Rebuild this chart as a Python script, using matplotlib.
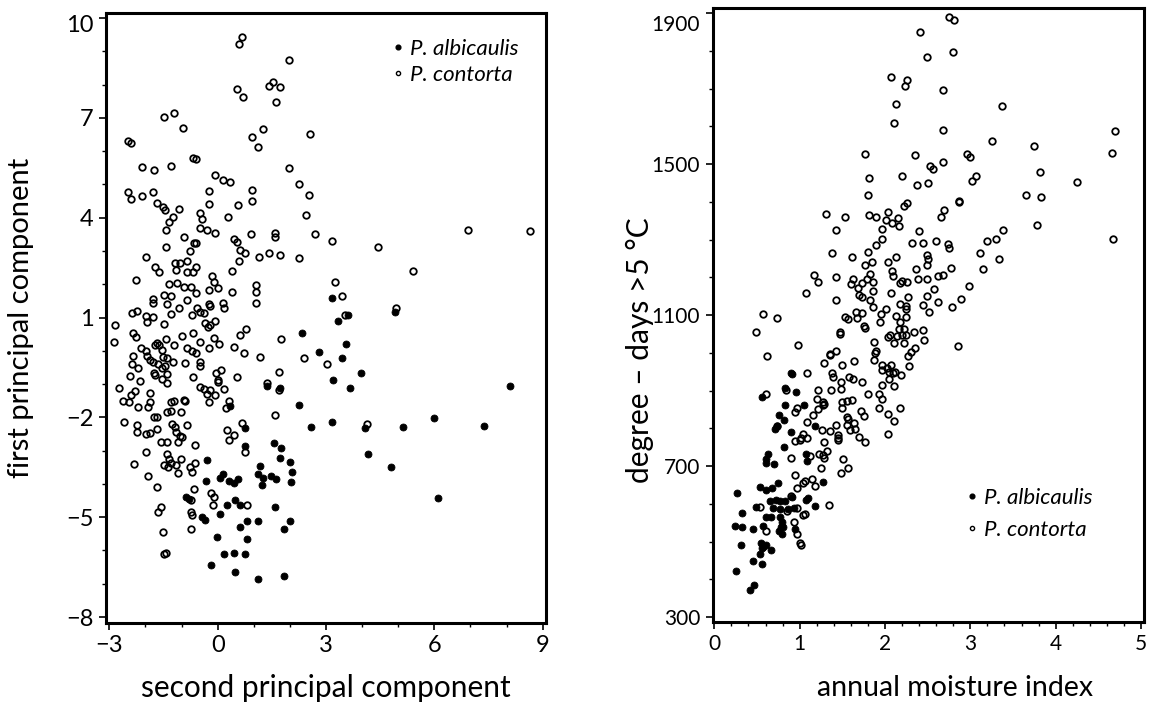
import numpy as np
import matplotlib
matplotlib.use("Agg")
import matplotlib.pyplot as plt
import matplotlib.transforms as mtransforms
from matplotlib.lines import Line2D
from matplotlib.ticker import MultipleLocator

plt.rcParams['font.family'] = ['Lato', 'DejaVu Sans']

# ---- left panel: principal components ----
pc2_contorta = [0.68, 0.58, 1.97, 1.53, 1.41, 1.73, 1.62, 0.55, 0.71, -1.49, -1.20, -0.95, -2.49, -2.41, 0.96, 1.26, 1.12, 2.56,
                -0.69, -0.61, -2.09, -1.76, -1.28, -0.08, 0.15, 0.33, 1.97, 2.26, 2.52, -2.48, -2.40, -2.09, -1.80, -1.68, -1.52,
                -1.46, -1.06, -0.25, -0.23, 0.56, 0.96, 0.96, -0.50, 2.45, -1.23, -1.35, -1.44, -0.43, -0.49, -0.29, -0.06, 0.29,
                -0.94, -0.66, -0.61, -0.77, -1.44, -1.99, -1.72, -1.63, -1.17, -1.03, -1.15, -0.84, -0.86, -0.68, -0.59, 0.44,
                0.54, 0.63, 0.77, 0.60, 0.40, 0.93, 1.60, 1.58, 1.14, 1.43, 1.73, 2.25, -0.15, -0.11, -2.26, -1.35, -1.12, -0.92,
                -0.75, -0.59, -0.25, 0.01, 0.40, 1.07, 1.07, 1.07, -1.49, -1.30, -1.80, -1.78, -0.84, -1.40, 0.15, 0.17, -0.23,
                -0.20, -1.07, -0.57, -0.49, -0.38, -1.30, -0.72, -2.38, -2.24, -1.97, -1.95, -1.78, -1.49, -0.34, -0.27, -0.20,
                -0.08, -2.84, -2.87, -2.33, -2.27, 0.79, 0.63, 1.76, -0.69, -1.00, -1.44, -1.67, -1.63, -1.72, -2.13, -1.99,
                -1.55, -1.21, -0.84, -0.72, -0.61, -0.48, -0.23, -0.09, 0.03, 0.44, 0.74, 1.16, 2.40, -2.35, -2.38, -2.21, -2.42,
                -2.16, -1.95, -1.86, -1.79, -1.64, -1.53, -1.51, -1.40, -1.24, -1.46, -1.40, -1.53, -1.40, -1.77, -1.72, -0.89,
                -0.49, -0.48, -0.68, -0.04, 0.08, 0.00, 0.54, 1.37, 1.69, 1.69, -2.74, -2.61, -2.44, -2.41, -2.30, -2.21, -1.93,
                -1.86, -1.86, -1.28, -1.21, -0.94, -0.89, -1.40, -1.28, -1.01, -0.48, -0.38, -0.29, -0.20, -0.08, -0.23, 0.17,
                0.31, 0.23, 0.01, -1.77, -2.59, -2.22, -2.22, -1.97, -1.88, -1.69, -1.69, -1.26, -1.19, -1.14, -1.05, -1.10,
                -0.98, -0.84, -1.58, -1.41, -0.62, -1.97, -2.32, -1.41, -1.35, -1.30, -1.49, -1.38, -1.15, -1.01, -1.09, -0.77,
                -0.72, -0.62, -1.93, -1.69, -0.66, -0.73, -0.18, -0.11, -0.13, -1.58, -1.64, -0.73, -0.72, -0.74, -1.50, -1.49,
                -1.42, 0.81, 0.26, 0.31, 0.46, 0.68, 0.77, 1.58, 2.70, 3.16, 4.43, 6.92, 8.66, 3.25, 5.42, 3.44, 4.94, 3.53,
                3.04, 4.13]
pc1_contorta = [9.44, 9.22, 8.73, 8.09, 7.97, 7.94, 7.48, 7.86, 7.64, 7.03, 7.15, 6.69, 6.30, 6.25, 6.43, 6.66, 6.13, 6.51,
                5.80, 5.75, 5.52, 5.42, 5.55, 5.28, 5.14, 5.07, 5.48, 5.01, 4.68, 4.78, 4.57, 4.66, 4.78, 4.45, 4.33,
                4.23, 4.26, 4.80, 4.40, 4.38, 4.82, 4.51, 4.15, 4.08, 4.01, 3.88, 3.63, 3.95, 3.68, 3.63, 3.55, 4.03,
                3.43, 3.23, 3.23, 3.01, 3.13, 2.83, 2.53, 2.38, 2.63, 2.65, 2.43, 2.70, 2.38, 2.38, 2.53, 3.35,
                3.28, 3.03, 2.93, 2.71, 2.41, 3.50, 3.55, 3.41, 2.83, 2.95, 2.88, 2.78, 2.25, 2.08, 2.13, 2.01, 2.03, 1.91,
                1.93, 1.75, 1.83, 1.88, 1.78, 1.98, 1.78, 1.45, 1.68, 1.65, 1.55, 1.45, 1.53, 1.41, 1.45, 1.28, 1.41,
                1.35, 1.30, 1.30, 1.17, 1.14, 1.10, 1.08, 1.14, 1.20, 1.05, 0.87, 1.01, 0.81, 0.83, 0.72, 0.78,
                0.90, 0.78, 0.26, 0.53, 0.42, 0.65, 0.47, 0.35, 0.54, 0.44, 0.35, 0.23, 0.17, 0.17, 0.09, 0.00,
                0.02, 0.17, 0.08, 0.00, -0.08, 0.26, 0.09, 0.38, 0.20, 0.12, -0.06, -0.18, -0.23, -0.15, -0.40, -0.51, -0.75,
                -0.90, -0.15, -0.28, -0.33, -0.41, -0.53, -0.18, -0.23, -0.33, -0.46, -0.70, -0.86, -0.96, -0.66, -0.73, -0.38,
                -0.33, -0.46, -0.80, -0.68, -0.58, -0.88, -0.78, -0.98, -0.63, -1.18, -1.11, -1.50, -1.53, -1.33, -1.21, -1.70, -1.68,
                -1.53, -1.28, -1.53, -1.50, -1.48, -1.50, -1.83, -1.81, -1.85, -1.08, -1.16, -1.30, -1.18, -1.33, -1.55, -1.16,
                -1.50, -1.72, -0.93, -2.00, -2.15, -2.23, -2.43, -2.50, -2.48, -2.35, -2.00, -2.20, -2.28, -2.43, -2.56, -2.73,
                -2.58, -2.23, -2.73, -2.73, -2.83, -3.03, -3.40, -3.10, -3.26, -3.38, -3.43, -3.50, -3.43, -3.25, -3.68, -3.50,
                -3.65, -3.36, -3.76, -4.08, -4.16, -4.48, -4.26, -4.38, -4.63, -4.70, -4.83, -4.83, -4.93, -5.35, -5.44, -6.11,
                -6.07, -4.63, -2.38, -2.68, -2.53, -2.18, -3.03, -1.93, 3.51, 3.31, 3.13, 3.63, 3.61, 2.08, 2.41, 1.65, 1.30, 1.08,
                -0.40, -2.21]

pc2_albicaulis = [1.38, 1.73, 2.33, 2.24, 0.35, 0.77, 0.75, 1.55, 1.76, 1.72, 1.99, 2.07, 2.03, -0.29, -0.31, 0.15, 0.06,
                  0.31, 0.44, 0.57, 1.16, 1.11, 1.25, 1.23, 1.48, 1.62, -0.87, -0.80, 0.49, 0.63, 0.26, 1.58, 0.06, -0.43,
                  -0.36, 0.81, 1.11, 2.01, 0.61, 1.85, -0.03, 0.81, 0.19, 0.44, 0.75, -0.18, 0.49, 1.12, 1.85, 4.91, 3.16,
                  3.62, 3.32, 3.56, 2.82, 3.43, 3.97, 3.18, 3.67, 8.09, 5.99, 3.16, 2.59, 4.09, 5.14, 7.38, 4.16, 4.80, 6.11]
pc1_albicaulis = [-1.06, -1.13, 0.53, -1.63, -1.66, -2.33, -2.86, -2.78, -2.93, -3.23, -3.35, -3.63, -3.93, -3.28, -3.90,
                  -3.70, -3.83, -3.90, -3.96, -3.86, -3.46, -3.71, -3.83, -4.03, -3.76, -3.86, -4.40, -4.46, -4.48, -4.63,
                  -4.63, -4.68, -4.91, -4.99, -5.08, -5.11, -5.10, -5.11, -5.30, -5.35, -5.60, -5.66, -6.11, -6.08, -6.11,
                  -6.44, -6.64, -6.86, -6.77, 1.17, 1.58, 1.08, 0.90, 0.20, -0.05, -0.23, -0.68, -0.88, -1.13, -1.06, -2.03,
                  -2.15, -2.28, -2.33, -2.29, -2.27, -3.09, -3.50, -4.41]

# ---- right panel: moisture index vs degree-days ----
ami_contorta = [2.41, 2.49, 2.07, 2.26, 2.24, 2.13, 2.11, 1.77, 2.35, 2.53, 2.20, 1.81, 2.50, 2.38, 1.80, 2.26, 2.22, 1.31,
                1.53, 1.81, 1.90, 2.04, 2.01, 2.08, 2.16, 2.15, 1.42, 1.96, 2.40, 1.97, 1.90, 2.32, 2.44, 1.38, 1.61, 1.80,
                1.85, 1.77, 2.03, 2.13, 2.49, 2.49, 1.17, 1.21, 1.43, 1.63, 1.60, 1.68, 1.73, 1.82, 1.79, 1.86, 1.70, 1.73,
                2.08, 2.09, 2.18, 2.20, 2.26, 2.36, 2.39, 2.49, 1.07, 1.42, 1.86, 1.83, 1.86, 2.07, 2.27, 2.17, 2.25, 2.44,
                2.49, 2.52, 0.57, 0.73, 0.49, 0.98, 0.62, 1.53, 1.57, 1.66, 1.73, 1.67, 1.47, 1.47, 1.75, 1.77, 1.95, 1.94,
                2.01, 2.13, 2.25, 2.18, 2.25, 2.16, 2.22, 2.20, 2.25, 2.14, 2.11, 2.22, 2.34, 2.44, 2.46, 2.35, 2.30, 2.27,
                2.28, 2.19, 2.04, 2.06, 1.87, 1.90, 1.88, 1.87, 1.64, 1.97, 1.96, 2.02, 2.07, 2.05, 2.09, 2.12, 2.05, 2.10,
                1.97, 1.93, 1.97, 1.93, 1.80, 2.04, 2.10, 2.17, 2.04, 1.73, 1.63, 1.58, 1.43, 1.36, 1.35, 1.29, 1.50, 1.38,
                1.39, 1.49, 1.49, 1.37, 1.09, 1.21, 1.20, 1.21, 1.27, 1.27, 1.29, 1.16, 1.09, 1.50, 1.55, 1.61, 1.50, 1.72,
                1.75, 1.55, 1.57, 1.55, 1.64, 1.65, 1.59, 1.70, 1.77, 1.43, 1.45, 1.45, 1.45, 1.36, 1.29, 1.26, 1.32, 1.27,
                1.23, 1.28, 1.25, 1.51, 1.57, 1.49, 1.04, 1.09, 1.00, 0.95, 1.02, 0.95, 0.97, 0.84, 0.90, 1.12, 0.94, 1.06,
                1.04, 1.14, 1.18, 0.97, 1.34, 0.61, 0.74, 0.54, 0.90, 0.85, 0.93, 0.61, 0.97, 1.00, 1.01, 1.06, 1.04, 0.97,
                2.75, 2.81, 2.80, 2.68, 3.37, 2.68, 4.69, 3.25, 3.75, 4.66, 2.96, 3.00, 2.56, 2.68, 3.82, 4.25, 3.07, 3.02,
                2.87, 2.87, 3.65, 3.83, 2.69, 2.66, 3.78, 4.67, 3.38, 3.30, 3.19, 3.11, 3.34, 3.15, 2.98, 2.89, 2.79, 2.60,
                2.74, 2.75, 2.50, 2.77, 2.68, 2.62, 2.57, 2.62, 2.85]
dd5_contorta = [1849, 1784, 1731, 1722, 1706, 1659, 1608, 1528, 1524, 1495, 1468, 1463, 1451, 1444, 1419, 1397, 1389, 1367,
                1359, 1365, 1361, 1373, 1352, 1343, 1336, 1358, 1326, 1329, 1322, 1303, 1286, 1290, 1290, 1264, 1255, 1266,
                1242, 1233, 1242, 1253, 1259, 1233, 1206, 1187, 1202, 1197, 1182, 1171, 1184, 1208, 1196, 1189, 1153, 1149,
                1218, 1203, 1185, 1191, 1187, 1222, 1196, 1197, 1158, 1140, 1165, 1141, 1121, 1159, 1147, 1130, 1124, 1127,
                1152, 1108, 1103, 1093, 1055, 1022, 992, 1095, 1090, 1108, 1106, 1092, 1055, 1049, 1071, 1067, 1102, 1082,
                1117, 1097, 1095, 1082, 1117, 1062, 1062, 1047, 1048, 1045, 1025, 1025, 1055, 1060, 1033, 1013, 1003, 992,
                965, 941, 1042, 1047, 1029, 1005, 1001, 982, 978, 968, 955, 959, 968, 950, 946, 950, 932, 911,
                915, 890, 878, 853, 891, 838, 820, 855, 785, 924, 931, 937, 1005, 998, 994, 974, 968, 946,
                937, 924, 905, 902, 947, 903, 878, 852, 871, 862, 864, 836, 816, 869, 873, 875, 853, 845,
                832, 829, 826, 810, 814, 798, 795, 776, 764, 810, 783, 775, 768, 792, 764, 795, 741, 729,
                731, 722, 694, 720, 696, 682, 786, 775, 768, 766, 775, 843, 855, 902, 722, 726, 676, 661,
                656, 665, 647, 641, 597, 890, 805, 592, 621, 580, 553, 527, 520, 496, 491, 573, 571, 590,
                1890, 1881, 1797, 1697, 1654, 1591, 1588, 1562, 1547, 1530, 1527, 1520, 1488, 1505, 1478, 1452, 1469, 1456,
                1402, 1400, 1418, 1413, 1378, 1360, 1338, 1303, 1325, 1301, 1296, 1264, 1248, 1222, 1176, 1143, 1121, 1297,
                1288, 1279, 1248, 1225, 1207, 1203, 1169, 1134, 1018]

ami_albicaulis = [0.90, 0.91, 0.83, 0.96, 0.56, 0.83, 1.05, 0.76, 0.82, 0.73, 0.71, 1.18, 0.90, 0.82, 0.63, 0.61, 0.61,
                  0.70, 1.07, 1.09, 1.27, 0.75, 0.68, 0.61, 0.53, 0.27, 0.49, 0.65, 0.72, 0.77, 0.83, 0.69, 0.77, 0.86,
                  0.93, 0.91, 1.07, 1.10, 1.18, 0.32, 0.24, 0.32, 0.45, 0.57, 0.60, 0.67, 0.77, 0.79, 0.78, 0.76, 0.79,
                  0.81, 0.94, 0.31, 0.55, 0.57, 0.61, 0.66, 0.54, 0.56, 0.45, 0.56, 0.25, 0.42, 0.47]
dd5_albicaulis = [946, 944, 908, 897, 884, 862, 862, 836, 823, 805, 799, 805, 790, 750, 731, 718, 709,
                  705, 731, 713, 659, 654, 643, 636, 645, 630, 592, 608, 611, 608, 608, 589, 586, 586,
                  590, 617, 610, 615, 595, 576, 542, 540, 533, 542, 566, 564, 564, 551, 538, 529, 520,
                  538, 533, 490, 496, 485, 490, 478, 466, 483, 448, 440, 421, 373, 384]

W, H = 1151, 714
fig = plt.figure(figsize=(W / 100, H / 100), dpi=100)

ax1 = fig.add_axes([106 / W, 1 - 622.5 / H, 440 / W, 609.8 / H])
ax2 = fig.add_axes([712.7 / W, 1 - 622 / H, 431.3 / W, 613.7 / H])

open_style = dict(ls='none', marker='o', ms=4.7, mfc='none', mec='black', mew=1.3)
fill_style = dict(ls='none', marker='o', ms=5.0, mfc='black', mec='black', mew=0.6)

ax1.plot(pc2_contorta, pc1_contorta, **open_style)
ax1.plot(pc2_albicaulis, pc1_albicaulis, **fill_style)
ax2.plot(ami_contorta, dd5_contorta, **open_style)
ax2.plot(ami_albicaulis, dd5_albicaulis, **fill_style)

ax1.set_xlim(-3.09, 9.09)
ax1.set_ylim(-8.165, 10.16)
ax1.set_xticks([-3, 0, 3, 6, 9])
ax1.set_yticks([-8, -5, -2, 1, 4, 7, 10])
ax1.xaxis.set_minor_locator(MultipleLocator(1))
ax1.yaxis.set_minor_locator(MultipleLocator(1))

ax2.set_xlim(-0.019, 5.035)
ax2.set_ylim(287, 1913)
ax2.set_xticks([0, 1, 2, 3, 4, 5])
ax2.set_yticks([300, 700, 1100, 1500, 1900])
ax2.xaxis.set_minor_locator(MultipleLocator(0.2))
ax2.yaxis.set_minor_locator(MultipleLocator(100))

for ax, lsize in ((ax1, 17), (ax2, 15)):
    for s in ax.spines.values():
        s.set_linewidth(2.2)
    ax.tick_params(which='major', direction='out', length=5, width=1.2, labelsize=lsize, pad=4)
    ax.tick_params(which='minor', direction='out', length=3, width=1.0)

# top tick labels sit a little below their ticks in the original
fig.canvas.draw()
ax1.get_yticklabels()[-1].set_transform(ax1.get_yticklabels()[-1].get_transform()
                                        + mtransforms.ScaledTranslation(0, -0.05, fig.dpi_scale_trans))
ax2.get_yticklabels()[-1].set_transform(ax2.get_yticklabels()[-1].get_transform()
                                        + mtransforms.ScaledTranslation(0, -0.10, fig.dpi_scale_trans))

ax1.set_xlabel('second principal component', fontsize=21.5)
ax1.set_ylabel('first principal component', fontsize=21)
ax2.set_xlabel('annual moisture index', fontsize=20.5)
ax2.set_ylabel('degree – days >5 °C', fontsize=21.5)

for ax, yx, yy, xx, xy in ((ax1, -0.193, 0.5, 0.5, -0.107), (ax2, -0.168, 0.443, 0.562, -0.107)):
    ax.yaxis.set_label_coords(yx, yy)
    ax.yaxis.label.set_va('center')
    ax.xaxis.set_label_coords(xx, xy)
    ax.xaxis.label.set_va('center')

handles = [Line2D([], [], ls='none', marker='o', ms=3.4, mfc='black', mec='black'),
           Line2D([], [], ls='none', marker='o', ms=3.0, mfc='white', mec='black', mew=1.0)]
names = ['P. albicaulis', 'P. contorta']

leg_kw = dict(frameon=False, handlelength=0.45, handletextpad=0.3, borderpad=0, borderaxespad=0,
              prop={'style': 'italic', 'size': 16})
ax1.legend(handles, names, loc='upper left', bbox_to_anchor=(0.652, 0.957), labelspacing=0.27, **leg_kw)
ax2.legend(handles, names, loc='upper left', bbox_to_anchor=(0.590, 0.219), labelspacing=0.55, **leg_kw)

fig.savefig('out.png', dpi=100)
